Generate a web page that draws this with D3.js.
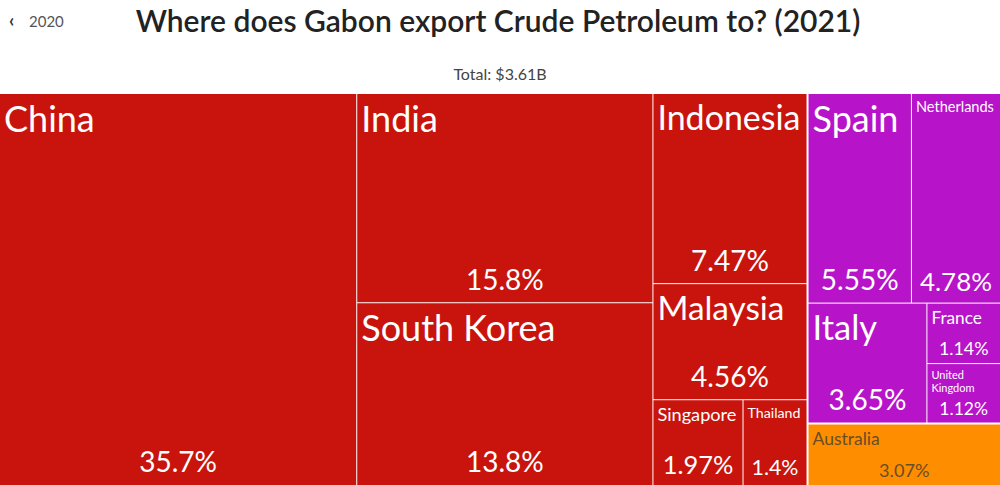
<!DOCTYPE html>
<html><head><meta charset="utf-8">
<script src="https://cdn.jsdelivr.net/npm/d3@7"></script>
<style>
html,body{margin:0;padding:0;background:#fff;}
svg{display:block;font-family:"Lato","Noto Sans",sans-serif;}
</style></head>
<body>
<svg id="chart" width="1000" height="485"></svg>
<script>
const titleText = "Where does Gabon export Crude Petroleum to? (2021)";
const totalText = "Total: $3.61B";
const backText = "2020";
const continents = ["Asia", "Europe", "Oceania"];
const continentColors = ["#C8140D", "#B714C9", "#FF8D00"];
const labelColors = ["#ffffff", "#ffffff", "#4f4230"];
const countries = ["China","India","South Korea","Indonesia","Malaysia","Singapore","Thailand",
                   "Spain","Netherlands","Italy","France","United Kingdom","Australia"];
const countryContinent = ["Asia","Asia","Asia","Asia","Asia","Asia","Asia",
                          "Europe","Europe","Europe","Europe","Europe","Oceania"];
const shares = [35.7,15.8,13.8,7.47,4.56,1.97,1.4,5.55,4.78,3.65,1.14,1.12,3.07];

const W = 1000, H = 485, top0 = 94;
const svg = d3.select("#chart");

svg.append("text").attr("x", 9).attr("y", 27).attr("font-size", 18).attr("font-weight", 700).attr("fill", "#333").text("‹");
svg.append("text").attr("x", 29).attr("y", 27).attr("font-size", 15).attr("fill", "#555").text(backText);
svg.append("text").attr("x", 498).attr("y", 32).attr("text-anchor", "middle")
  .attr("font-size", 30).attr("font-weight", 600).attr("fill", "#222").text(titleText);
svg.append("text").attr("x", 500).attr("y", 80).attr("text-anchor", "middle")
  .attr("font-size", 16).attr("fill", "#444").text(totalText);

const data = {name: "root", children: continents.map(c => ({
  name: c,
  children: countries.map((n, i) => ({name: n, value: shares[i], cont: countryContinent[i]}))
                     .filter(d => d.cont === c)
}))};

const root = d3.hierarchy(data).sum(d => d.value || 0).sort((a, b) => b.value - a.value);
d3.treemap().size([W, H - top0]).paddingInner(d => d.depth === 0 ? 2 : 1).round(false)(root);

const color = d3.scaleOrdinal().domain(continents).range(continentColors);
const lcolor = d3.scaleOrdinal().domain(continents).range(labelColors);

const g = svg.append("g").attr("transform", `translate(0,${top0})`);
const leaves = g.selectAll("g.leaf").data(root.leaves()).join("g").attr("class", "leaf");

leaves.append("rect")
  .attr("x", d => d.x0).attr("y", d => d.y0)
  .attr("width", d => d.x1 - d.x0).attr("height", d => d.y1 - d.y0)
  .attr("fill", d => color(d.data.cont));

const meas = svg.append("text").attr("font-size", 100).attr("visibility", "hidden");
function widthAt1(t) { meas.text(t); return meas.node().getComputedTextLength() / 100; }

leaves.each(function(d) {
  const sel = d3.select(this);
  const w = d.x1 - d.x0, h = d.y1 - d.y0;
  const fc = lcolor(d.data.cont);
  const name = d.data.name;
  let nameSize = Math.min(36, h * 0.29, (w - 10) / widthAt1(name));
  let lines = [name];
  if (nameSize < 11 && name.includes(" ")) {
    lines = name.split(" ");
    const maxw = d3.max(lines, widthAt1);
    nameSize = Math.min(11, (w - 10) / maxw);
  }
  const op = d.data.cont === "Oceania" ? 0.85 : 1;
  const txt = sel.append("text").attr("fill", fc).attr("font-size", nameSize).attr("opacity", op);
  lines.forEach((l, i) => {
    txt.append("tspan").attr("x", d.x0 + 4)
      .attr("y", d.y0 + 4 + nameSize * 0.95 + i * nameSize * 1.2).text(l);
  });
  const pct = d3.format(".3~")(d.data.value) + "%";
  const pctSize = Math.min(28, h * 0.3, (w - 16) / widthAt1(pct));
  sel.append("text").attr("fill", fc).attr("font-size", pctSize).attr("opacity", op)
    .attr("text-anchor", "middle")
    .attr("x", (d.x0 + d.x1) / 2)
    .attr("y", d.y1 - pctSize * 0.45)
    .text(pct);
});
meas.remove();
</script>
</body></html>
